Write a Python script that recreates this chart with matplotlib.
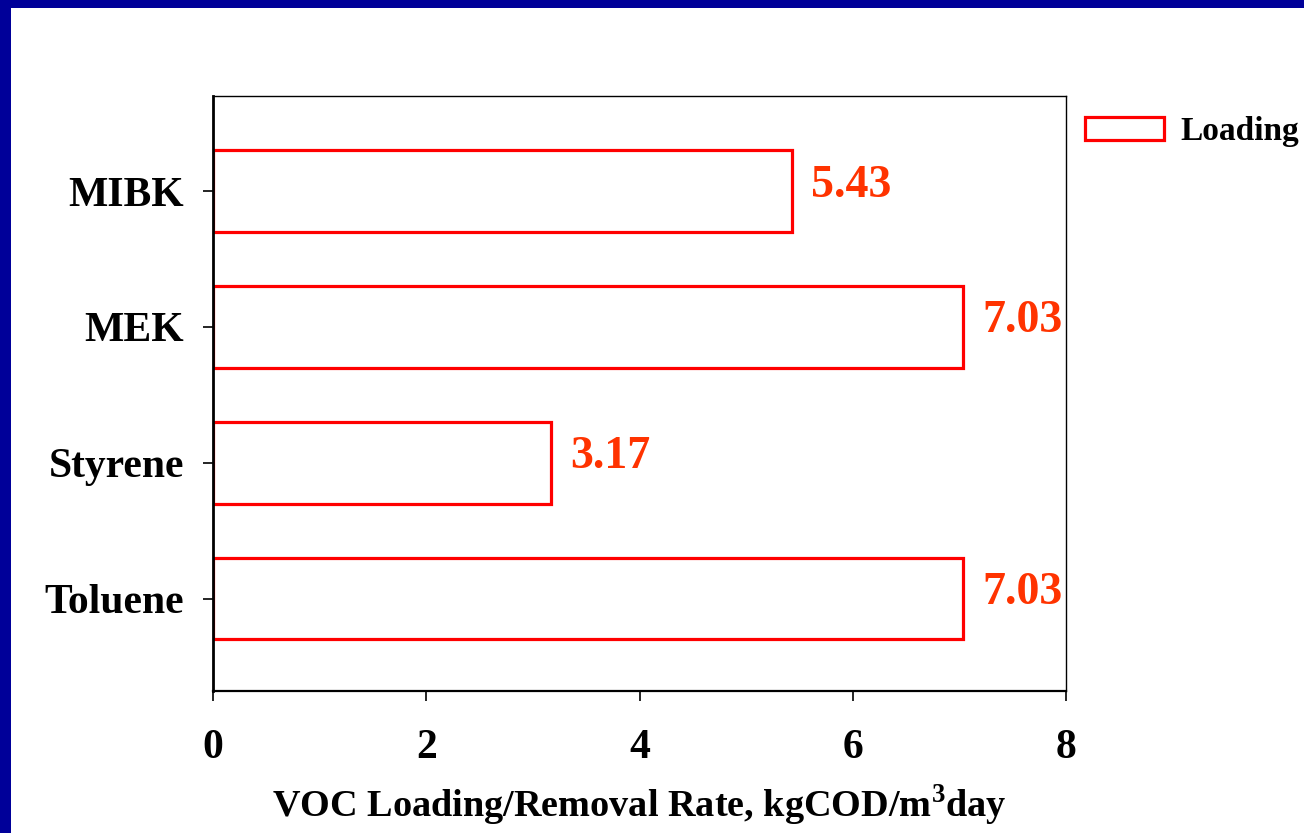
import matplotlib
matplotlib.use('Agg')
import matplotlib.pyplot as plt
from matplotlib.patches import Rectangle
from matplotlib import font_manager as fm
import numpy as np

bold_path = fm.findfont(fm.FontProperties(family='Liberation Serif', weight='bold'))
fm.fontManager.addfont(bold_path)
plt.rcParams['font.family'] = ['Liberation Serif', 'DejaVu Serif']
plt.rcParams['font.weight'] = 'bold'
plt.rcParams['mathtext.fontset'] = 'custom'
plt.rcParams['mathtext.rm'] = 'Liberation Serif:bold'
plt.rcParams['mathtext.bf'] = 'Liberation Serif:bold'

def bold(size):
    return fm.FontProperties(fname=bold_path, size=size)

# data
compounds = ['Toluene', 'Styrene', 'MEK', 'MIBK']
loading = [7.03, 3.17, 7.03, 5.43]
value_labels = ['7.03', '3.17', '7.03', '5.43']
xticks = [0, 2, 4, 6, 8]

fig = plt.figure(figsize=(13.04, 8.33), dpi=100)
fig.patch.set_facecolor('white')

# dark blue slide border (top and left)
fig.patches.append(Rectangle((0, 825/833), 1, 8/833, transform=fig.transFigure,
                             facecolor='#000099', edgecolor='none', zorder=0))
fig.patches.append(Rectangle((0, 0), 11/1304, 1, transform=fig.transFigure,
                             facecolor='#000099', edgecolor='none', zorder=0))

ax = fig.add_axes([213/1304, 1 - 691/833, (1066 - 213)/1304, (691 - 96)/833])

y = np.arange(len(compounds))
ax.barh(y, loading, height=0.6, facecolor='white', edgecolor='#FF0000',
        linewidth=2.3, label='Loading')

for yi, v, lab in zip(y, loading, value_labels):
    ax.annotate(lab, xy=(v, yi), xytext=(14, 4), textcoords='offset points',
                ha='left', va='center', fontproperties=bold(33),
                color='#FF3300')

ax.set_xlim(0, 8)
ax.set_ylim(-0.68, 3.70)
ax.set_xticks(xticks)
ax.set_xticklabels([str(t) for t in xticks], fontproperties=bold(30))
ax.set_yticks(y)
ax.set_yticklabels(compounds, fontproperties=bold(30))

ax.tick_params(axis='x', direction='out', length=7, width=1.2, pad=20)
ax.tick_params(axis='y', direction='out', length=7, width=1.2, pad=14)

ax.spines['left'].set_linewidth(2)
ax.spines['bottom'].set_linewidth(1.6)
ax.spines['top'].set_linewidth(1)
ax.spines['right'].set_linewidth(1)

ax.set_xlabel('VOC Loading/Removal Rate, kgCOD/m$^{3}$day',
              fontproperties=bold(27.5), labelpad=12)

ax.legend(loc='upper left', bbox_to_anchor=(1.011, 0.983), frameon=False,
          prop=bold(24), handlelength=2.35, handleheight=0.65,
          handletextpad=0.5, borderaxespad=0.0, borderpad=0.3)

fig.savefig('out.png', dpi=100, facecolor='white')
